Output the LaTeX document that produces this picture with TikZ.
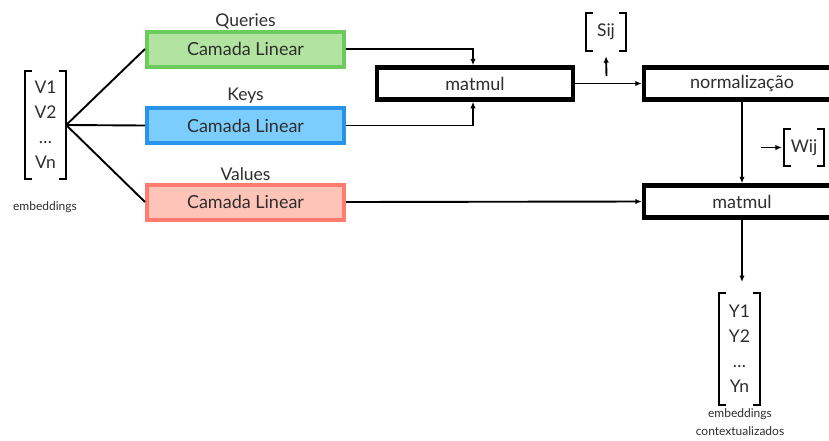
\documentclass[tikz,border=0pt]{standalone}
\usepackage{fontspec}
\setmainfont{Lato}
\usetikzlibrary{arrows.meta}

\definecolor{ink}{HTML}{2E2E2E}
\definecolor{qline}{HTML}{6BCB5C}
\definecolor{qfill}{HTML}{B3E3A1}
\definecolor{kline}{HTML}{2A93EC}
\definecolor{kfill}{HTML}{7BCDFD}
\definecolor{vline}{HTML}{FF7A6F}
\definecolor{vfill}{HTML}{FFC4B8}

\tikzset{
  lin/.style={draw=#1line, fill=#1fill, line width=4pt, minimum width=197pt,
    minimum height=35pt, inner sep=0pt, text=ink, font=\fontsize{18}{20}\selectfont},
  opbox/.style={draw=black, fill=white, line width=4.5pt, minimum width=196pt,
    minimum height=32pt, inner sep=0pt, text=ink, font=\fontsize{18}{20}\selectfont},
  lbl/.style={text=ink, inner sep=0pt, font=\fontsize{17.5}{20}\selectfont},
  small/.style={text=ink, inner sep=0pt, font=\fontsize{12}{18}\selectfont, align=center},
  vec/.style={text=ink, inner sep=0pt, align=center,
    font=\fontsize{17.5}{25}\selectfont},
  wire/.style={draw=black, line width=1.9pt},
  arr/.style={wire, -{Latex[length=6.5pt,width=5.5pt]}},
  brk/.style={draw=black, line width=1.8pt},
}

\newcommand{\brackets}[1]{%
  \draw[brk] ([xshift=7pt]#1.north west) -- (#1.north west) -- (#1.south west) -- ([xshift=7pt]#1.south west);
  \draw[brk] ([xshift=-7pt]#1.north east) -- (#1.north east) -- (#1.south east) -- ([xshift=-7pt]#1.south east);
}

\begin{document}
\begin{tikzpicture}[x=1pt,y=-1pt]
\clip (0,0) rectangle (829,440);
\fill[white] (0,0) rectangle (829,440);

% input embeddings
\node[vec, minimum width=41pt, minimum height=108pt] (vin) at (45.5,125) {V1\\V2\\…\\Vn};
\brackets{vin}
\node[small] (emb) at (45,207) {embeddings};

% linear projections
\node[lin=q] (q) at (245.5,49) {Camada Linear};
\node[lin=k] (k) at (245.5,125.5) {Camada Linear};
\node[lin=v] (v) at (245.5,202) {Camada Linear};
\node[lbl] (ql) at (245.5,21) {Queries};
\node[lbl] (kl) at (245.5,96) {Keys};
\node[lbl] (vl) at (245.5,174) {Values};

\draw[wire] (vin.east) -- (q.west);
\draw[wire] (vin.east) -- (k.west);
\draw[wire] (vin.east) -- (v.west);

% attention operations
\node[opbox] (m1) at (475,83.5) {matmul};
\node[opbox] (norm) at (742,83.5) {normalização};
\node[opbox] (m2) at (742,201.5) {matmul};

\draw[arr] (q.east) -| ([xshift=-2pt]m1.north);
\draw[arr] (k.east) -| ([xshift=-2pt]m1.south);
\draw[arr] (m1.east) -- (norm.west);
\draw[arr] (norm.south) -- (m2.north);
\draw[arr] (v.east) -- (m2.west);

% score matrix
\node[lbl, minimum width=40pt, minimum height=38pt] (sij) at (606,32) {Sij};
\brackets{sij}
\coordinate (sbase) at (606.5,76);
\draw[arr] (sbase) -- ([yshift=-5pt]sij.south);

% weight matrix
\node[lbl, minimum width=40pt, minimum height=37pt] (wij) at (804,147.5) {Wij};
\brackets{wij}
\coordinate (wbase) at (761,147.5);
\draw[arr] (wbase) -- ([xshift=-2pt]wij.west);

% contextual embeddings
\coordinate (out) at (742,282);
\draw[arr] (m2.south) -- (out);
\node[vec, minimum width=41pt, minimum height=112pt] (yout) at (739.5,349) {Y1\\Y2\\…\\Yn};
\brackets{yout}
\node[small] (ctx) at (740,422.5) {embeddings\\contextualizados};
\end{tikzpicture}
\end{document}
